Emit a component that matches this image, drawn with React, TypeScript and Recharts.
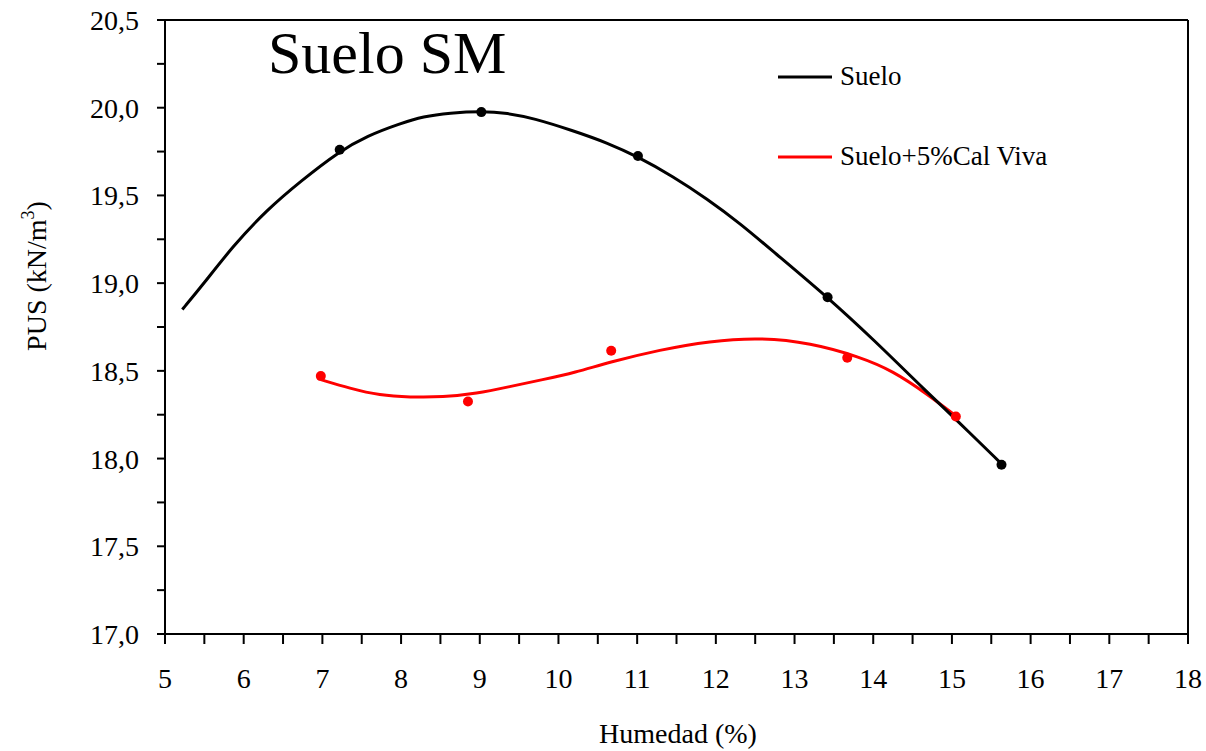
import React from 'react';
import { ComposedChart, Line, Scatter, XAxis, YAxis, ReferenceLine } from 'recharts';

type Pt = { x: number; y: number };

// fitted compaction curves (humedad %, PUS kN/m3)
const sueloCurve: Pt[] = [
  { x: 5.22, y: 18.85 }, { x: 5.48, y: 18.99 }, { x: 5.86, y: 19.21 }, { x: 6.3, y: 19.42 },
  { x: 6.72, y: 19.58 }, { x: 7.21, y: 19.75 }, { x: 7.57, y: 19.84 }, { x: 7.99, y: 19.91 },
  { x: 8.28, y: 19.95 }, { x: 8.62, y: 19.97 }, { x: 9.02, y: 19.98 }, { x: 9.35, y: 19.97 },
  { x: 9.68, y: 19.94 }, { x: 10.18, y: 19.87 }, { x: 10.62, y: 19.8 }, { x: 11.01, y: 19.72 },
  { x: 11.45, y: 19.61 }, { x: 11.89, y: 19.48 }, { x: 12.31, y: 19.34 }, { x: 12.73, y: 19.18 },
  { x: 13.42, y: 18.92 }, { x: 14.0, y: 18.68 }, { x: 14.68, y: 18.38 }, { x: 15.06, y: 18.22 },
  { x: 15.63, y: 17.97 },
];
const calCurve: Pt[] = [
  { x: 6.98, y: 18.45 }, { x: 7.35, y: 18.4 }, { x: 7.73, y: 18.36 }, { x: 8.11, y: 18.35 },
  { x: 8.53, y: 18.35 }, { x: 8.96, y: 18.37 }, { x: 9.38, y: 18.41 }, { x: 9.8, y: 18.45 },
  { x: 10.21, y: 18.49 }, { x: 10.65, y: 18.55 }, { x: 11.29, y: 18.62 }, { x: 11.92, y: 18.67 },
  { x: 12.56, y: 18.69 }, { x: 13.2, y: 18.66 }, { x: 13.83, y: 18.58 }, { x: 14.25, y: 18.5 },
  { x: 14.68, y: 18.37 }, { x: 15.06, y: 18.24 },
];

// measured points
const sueloPts: Pt[] = [
  { x: 7.22, y: 19.76 }, { x: 9.02, y: 19.975 }, { x: 11.01, y: 19.725 },
  { x: 13.42, y: 18.92 }, { x: 15.63, y: 17.965 },
];
const calPts: Pt[] = [
  { x: 6.98, y: 18.47 }, { x: 8.85, y: 18.325 }, { x: 10.67, y: 18.615 },
  { x: 13.67, y: 18.575 }, { x: 15.05, y: 18.24 },
];

const xTicks = [5, 5.5, 6, 6.5, 7, 7.5, 8, 8.5, 9, 9.5, 10, 10.5, 11, 11.5, 12, 12.5, 13, 13.5, 14, 14.5, 15, 15.5, 16, 16.5, 17, 17.5, 18];
const yTicks = [17, 17.25, 17.5, 17.75, 18, 18.25, 18.5, 18.75, 19, 19.25, 19.5, 19.75, 20, 20.25, 20.5];

const FONT = '"Liberation Serif", "Times New Roman", serif';
const W = 1206;
const H = 751;

const xFmt = (v: number) => (Number.isInteger(v) ? String(v) : '');
const yFmt = (v: number) => (Math.abs(v * 2 - Math.round(v * 2)) < 1e-6 ? v.toFixed(1).replace('.', ',') : '');

const dot = (color: string) => (p: any) => <circle cx={p.cx} cy={p.cy} r={5} fill={color} />;

const txt = (size: number): React.CSSProperties => ({ fontFamily: FONT, fontSize: size, fill: '#000' });

export default function App() {
  const tickStyle = { fontFamily: FONT, fontSize: 28, fill: '#000', style: { fontFamily: FONT } };
  return (
    <div style={{ position: 'absolute', left: 0, top: 0, width: W, height: H, background: '#fff' }}>
      <ComposedChart width={W} height={H} margin={{ top: 20, right: 18, bottom: 57, left: 85 }}>
        <XAxis
          type="number"
          dataKey="x"
          domain={[5, 18]}
          ticks={xTicks}
          tickFormatter={xFmt}
          allowDataOverflow
          height={60}
          tickSize={10}
          tickMargin={24}
          interval={0}
          axisLine={{ stroke: '#000', strokeWidth: 2 }}
          tickLine={{ stroke: '#000', strokeWidth: 2 }}
          tick={tickStyle}
        />
        <YAxis
          type="number"
          dataKey="y"
          domain={[17, 20.5]}
          ticks={yTicks}
          tickFormatter={yFmt}
          allowDataOverflow
          width={80}
          tickSize={8}
          tickMargin={18}
          interval={0}
          axisLine={{ stroke: '#000', strokeWidth: 2 }}
          tickLine={{ stroke: '#000', strokeWidth: 2 }}
          tick={tickStyle}
        />
        <ReferenceLine y={20.5} stroke="#000" strokeWidth={2} />
        <ReferenceLine x={18} stroke="#000" strokeWidth={2} />
        <Line data={calCurve} dataKey="y" type="basis" stroke="#ff0000" strokeWidth={3} dot={false} isAnimationActive={false} />
        <Scatter data={calPts} dataKey="y" fill="#ff0000" shape={dot('#ff0000')} isAnimationActive={false} />
        <Line data={sueloCurve} dataKey="y" type="basis" stroke="#000" strokeWidth={3} dot={false} isAnimationActive={false} />
        <Scatter data={sueloPts} dataKey="y" fill="#000" shape={dot('#000')} isAnimationActive={false} />
      </ComposedChart>

      {/* title, legend and axis titles */}
      <svg width={W} height={H} style={{ position: 'absolute', left: 0, top: 0, pointerEvents: 'none' }}>
        <text x={268} y={73} style={txt(60)}>Suelo SM</text>
        <line x1={778} y1={77} x2={832} y2={77} stroke="#000" strokeWidth={3} />
        <text x={840} y={85} style={txt(27)}>Suelo</text>
        <line x1={778} y1={157} x2={832} y2={157} stroke="#ff0000" strokeWidth={3} />
        <text x={840} y={165} style={txt(27)}>Suelo+5%Cal Viva</text>
        <text x={678} y={743} style={txt(28)} textAnchor="middle">Humedad (%)</text>
        <text transform="translate(46,276) rotate(-90)" style={txt(28)} textAnchor="middle">
          PUS (kN/m<tspan dy={-12} style={{ fontSize: 18 }}>3</tspan><tspan dy={12}>)</tspan>
        </text>
      </svg>
    </div>
  );
}
